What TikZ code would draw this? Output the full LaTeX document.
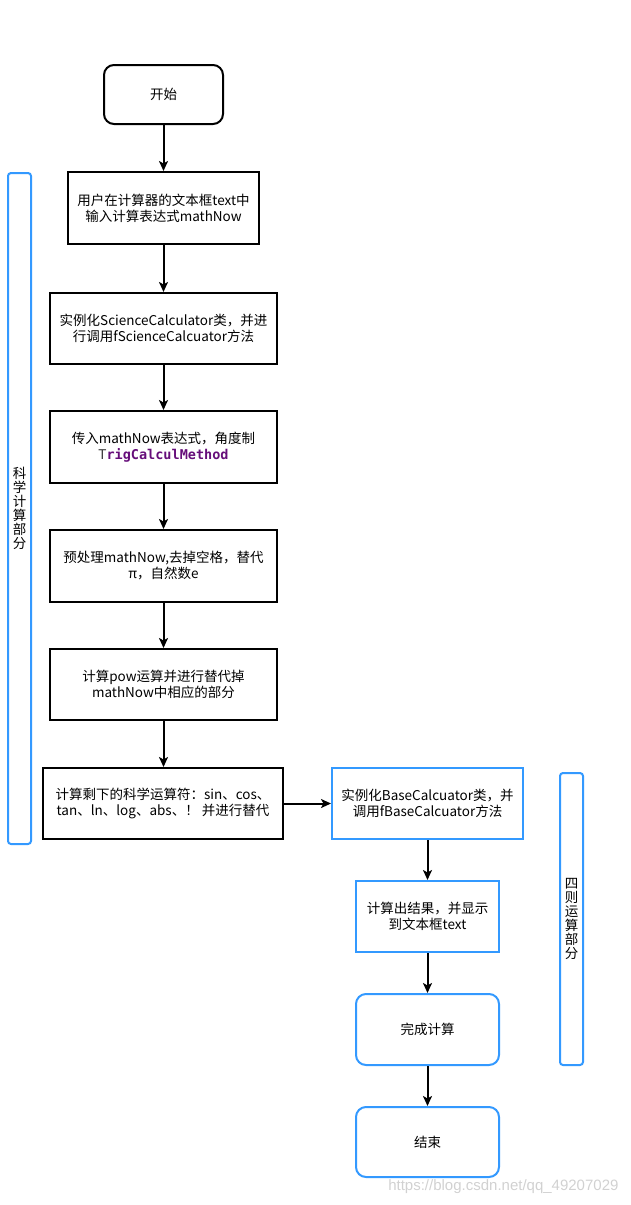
\documentclass[tikz,border=0pt]{standalone}
\usepackage{fontspec}
\setmainfont{Noto Sans CJK SC}
\newfontfamily\codefont{DejaVu Sans Mono}
\newfontfamily\wmfont{Liberation Sans}
\usetikzlibrary{arrows.meta}
\definecolor{drawblue}{RGB}{51,153,255}
\definecolor{codepurple}{RGB}{102,14,122}
\tikzset{
  procbox/.style={draw=black, line width=2pt, minimum height=71pt, align=center, inner sep=1pt},
  blueproc/.style={procbox, draw=drawblue},
  termbox/.style={procbox, rounded corners=10pt, minimum width=119pt, minimum height=59pt},
  blueterm/.style={procbox, draw=drawblue, rounded corners=10pt, minimum width=143pt},
  sidebar/.style={draw=drawblue, line width=2pt, rounded corners=3pt, minimum width=23pt, align=center, inner sep=0pt,
    font=\fontsize{13.5}{14}\selectfont},
  flow/.style={-{Stealth[length=10pt,width=9pt,inset=2.5pt]}, line width=2pt}
}
\begin{document}
\begin{tikzpicture}[x=1pt, y=-1pt, every node/.style={font=\fontsize{13.5}{16}\selectfont}]
    \useasboundingbox (0,0) rectangle (630,1205);

    % left column
    \node[termbox] (start) at (163.5,94.5) {开始};
    \node[procbox, minimum width=191pt, minimum height=72pt] (input) at (163.5,208) {用户在计算器的文本框text中\\输入计算表达式mathNow};
    \node[procbox, minimum width=227pt] (sci) at (163.5,328.5) {实例化ScienceCalculator类，并进\\行调用fScienceCalcuator方法};
    \node[procbox, minimum width=227pt, minimum height=72pt] (pass) at (163.5,447) {传入mathNow表达式，角度制\\{\codefont\color{black!75}T\textbf{\color{codepurple}rigCalculMethod}}};
    \node[procbox, minimum width=227pt, minimum height=72pt] (prep) at (163.5,566) {预处理mathNow,去掉空格，替代\\π，自然数e};
    \node[procbox, minimum width=227pt] (pow) at (163.5,684.5) {计算pow运算并进行替代掉\\mathNow中相应的部分};
    \node[procbox, minimum width=240pt] (rest) at (163,803.5) {计算剩下的科学运算符：sin、cos、\\tan、ln、log、abs、！ 并进行替代};

    % right column
    \node[blueproc, minimum width=191pt] (base) at (427.5,803.5) {实例化BaseCalcuator类，并\\调用fBaseCalcuator方法};
    \node[blueproc, minimum width=143pt] (show) at (427.5,916.5) {计算出结果，并显示\\到文本框text};
    \node[blueterm] (done) at (427.5,1029.5) {完成计算};
    \node[blueterm, minimum height=70pt] (stop) at (427.5,1142) {结束};

    % side labels
    \node[sidebar, minimum height=671pt] (scilabel) at (19.5,508.5) {科\\学\\计\\算\\部\\分};
    \node[sidebar, minimum height=292pt] (baselabel) at (571.5,919) {四\\则\\运\\算\\部\\分};

    \draw[flow] (start) -- (input);
    \draw[flow] (input) -- (sci);
    \draw[flow] (sci) -- (pass);
    \draw[flow] (pass) -- (prep);
    \draw[flow] (prep) -- (pow);
    \draw[flow] (pow) -- (pow.south |- rest.north);
    \draw[flow] (rest) -- (base);
    \draw[flow] (base) -- (show);
    \draw[flow] (show) -- (done);
    \draw[flow] (done) -- (stop);

    \node[font=\wmfont\fontsize{15}{15}\selectfont, text=black!18, anchor=east] (mark) at (622,1187) {https://blog.csdn.net/qq\_49207029};
\end{tikzpicture}
\end{document}
